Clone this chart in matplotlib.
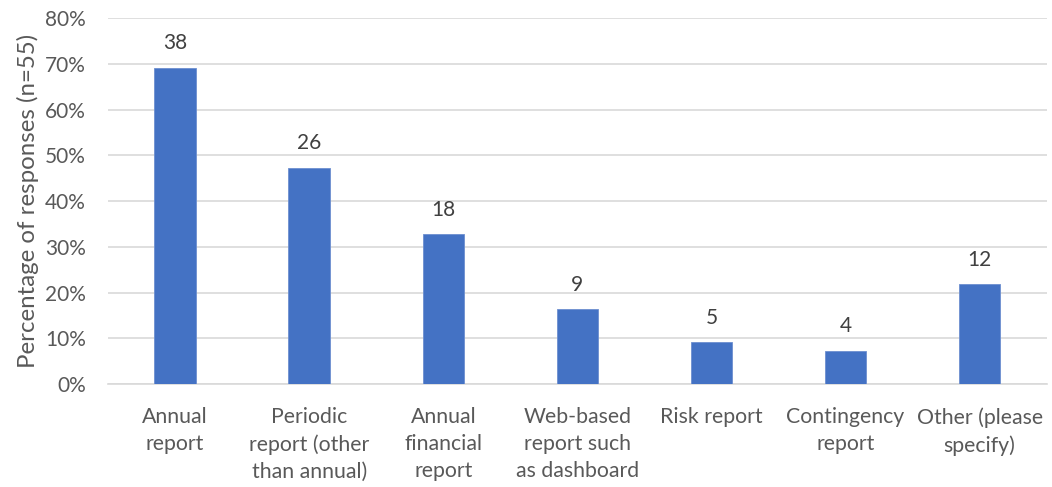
import matplotlib
matplotlib.use("Agg")
import matplotlib.pyplot as plt
from matplotlib.ticker import PercentFormatter

plt.rcParams['font.family'] = ['Lato', 'DejaVu Sans']

categories = ["Annual\nreport", "Periodic\nreport (other\nthan annual)", "Annual\nfinancial\nreport",
              "Web-based\nreport such\nas dashboard", "Risk report", "Contingency\nreport",
              "Other (please\nspecify)"]
counts = [38, 26, 18, 9, 5, 4, 12]
n_responses = 55
pct = [c / n_responses * 100 for c in counts]

fig = plt.figure(figsize=(10.52, 4.87), dpi=100)
ax = fig.add_axes([0.1027, 0.2115, 0.8923, 0.7515])

x = range(len(categories))
bars = ax.bar(x, pct, width=0.31, color="#4472C4", edgecolor="#6D8FD0", linewidth=0.6, zorder=3)
for b, c in zip(bars, counts):
    ax.text(b.get_x() + b.get_width() / 2, b.get_height() + 3.2, str(c),
            ha="center", va="bottom", fontsize=15, color="#404040")

ax.set_xlim(-0.5, len(categories) - 0.5)
ax.set_ylim(0, 80)
ax.set_yticks(range(0, 81, 10))
ax.yaxis.set_major_formatter(PercentFormatter(decimals=0))
ax.set_xticks(list(x))
ax.set_xticklabels(categories, fontsize=15.3, color="#595959", linespacing=1.45)
ax.tick_params(axis="y", labelsize=15, labelcolor="#595959", length=0, pad=16)
ax.tick_params(axis="x", length=0, pad=16.5)
ax.grid(axis="y", color="#D9D9D9", linewidth=1.2, zorder=0)
for s in ["top", "right", "left"]:
    ax.spines[s].set_visible(False)
ax.spines["bottom"].set_color("#D9D9D9")
ax.spines["bottom"].set_linewidth(1.2)
ax.set_ylabel("Percentage of responses (n=55)", fontsize=17.3, color="#595959", labelpad=4)

fig.savefig("out.png", dpi=100)
